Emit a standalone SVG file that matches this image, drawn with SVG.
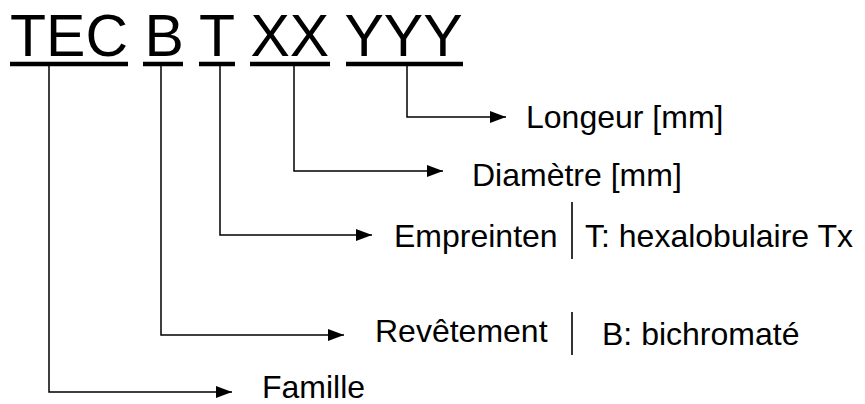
<svg xmlns="http://www.w3.org/2000/svg" width="865" height="404" viewBox="0 0 865 404">
<style>
.code{font-family:"Liberation Sans",Arial,sans-serif;font-size:59px;fill:#000}
.lbl{font-family:"Liberation Sans",Arial,sans-serif;font-size:32px;fill:#000}
.ul{stroke:#000;stroke-width:4.5;fill:none}
.con{stroke:#000;stroke-width:1.5;fill:none}
.sep{stroke:#000;stroke-width:1.6;fill:none}
</style>
<defs>
<marker id="arr" markerUnits="userSpaceOnUse" markerWidth="16" markerHeight="12" refX="16" refY="6" orient="auto">
<path d="M0,0 L16,6 L0,12 Z" fill="#000"/>
</marker>
</defs>
<rect width="865" height="404" fill="#fff"/>
<g id="code">
<text class="code" x="10" y="56">TEC B T XX YYY</text>
<line class="ul" x1="10" y1="64" x2="128" y2="64"/>
<line class="ul" x1="143" y1="64" x2="183" y2="64"/>
<line class="ul" x1="199" y1="64" x2="235" y2="64"/>
<line class="ul" x1="250" y1="64" x2="330" y2="64"/>
<line class="ul" x1="346" y1="64" x2="463" y2="64"/>
</g>
<g id="connectors">
<path class="con" d="M407,66 V117 H506" marker-end="url(#arr)"/>
<path class="con" d="M294,66 V171 H443" marker-end="url(#arr)"/>
<path class="con" d="M220,66 V235 H372" marker-end="url(#arr)"/>
<path class="con" d="M161,66 V335 H344" marker-end="url(#arr)"/>
<path class="con" d="M49,66 V392 H232" marker-end="url(#arr)"/>
</g>
<g id="longeur"><text class="lbl" x="526" y="128">Longeur [mm]</text></g>
<g id="diametre"><text class="lbl" x="472" y="186">Diamètre [mm]</text></g>
<g id="empreinten">
<text class="lbl" x="394" y="247">Empreinten</text>
<line class="sep" x1="572" y1="202" x2="572" y2="259"/>
<text class="lbl" x="585" y="247">T: hexalobulaire Tx</text>
</g>
<g id="revetement">
<text class="lbl" x="375" y="342">Revêtement</text>
<line class="sep" x1="572" y1="312" x2="572" y2="355"/>
<text class="lbl" x="602" y="345">B: bichromaté</text>
</g>
<g id="famille"><text class="lbl" x="262" y="398">Famille</text></g>
</svg>
